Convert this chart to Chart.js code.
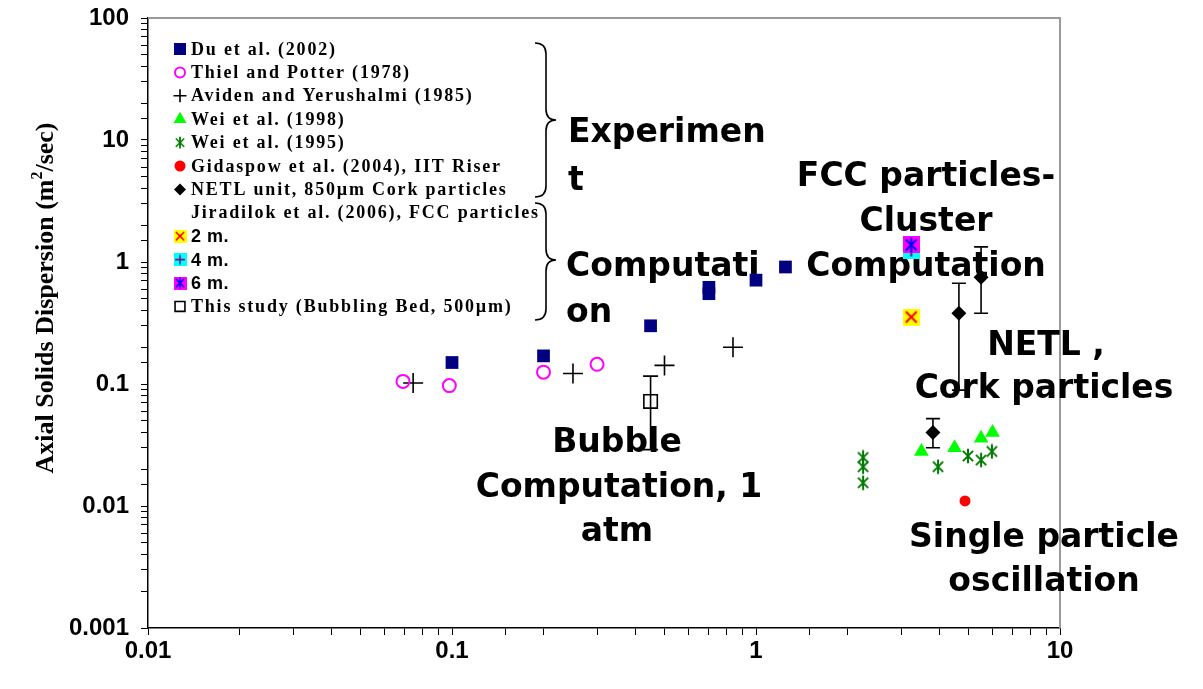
<!DOCTYPE html>
<html><head><meta charset="utf-8">
<script src="https://cdn.jsdelivr.net/npm/chart.js@4"></script>
<style>html,body{margin:0;padding:0;background:#fff}#wrap{width:1203px;height:689px;position:relative}</style>
</head><body><div id="wrap"><canvas id="c"></canvas></div>
<script>
// ---- tick labels ----
const xTickLabels = ['0.01', '0.1', '1', '10'];
const yTickLabels = ['0.001', '0.01', '0.1', '1', '10', '100'];

// ---- series ----
const duX = [0.1, 0.2, 0.45, 0.7, 0.7, 1.0, 1.25];
const duY = [0.15, 0.17, 0.30, 0.62, 0.55, 0.71, 0.91];
const thielX = [0.069, 0.098, 0.2, 0.3];
const thielY = [0.105, 0.097, 0.125, 0.145];
const avidenX = [0.0745, 0.25, 0.5, 0.84];
const avidenY = [0.102, 0.122, 0.142, 0.2];
const wei98X = [3.5, 4.5, 5.5, 6.0];
const wei98Y = [0.028, 0.030, 0.036, 0.040];
const wei95X = [2.25, 2.25, 2.25, 3.97, 4.98, 5.5, 5.97];
const wei95Y = [0.025, 0.021, 0.0155, 0.021, 0.0257, 0.0238, 0.028];
const gidaspowX = [4.87];
const gidaspowY = [0.011];
const netlX = [3.82, 4.65, 5.5];
const netlY = [0.040, 0.38, 0.75];
const netlLow = [0.030, 0.089, 0.38];
const netlHigh = [0.052, 0.67, 1.33];
const jir2X = [3.24];
const jir2Y = [0.354];
const jir4X = [3.24];
const jir4Y = [1.25];
const jir6X = [3.24];
const jir6Y = [1.38];
const thisX = [0.45];
const thisY = [0.072];
const thisLow = [0.029];
const thisHigh = [0.116];

const seriesLabels = [
  'Du et al. (2002)', 'Thiel and Potter (1978)', 'Aviden and Yerushalmi (1985)',
  'Wei et al. (1998)', 'Wei et al. (1995)', 'Gidaspow et al. (2004), IIT Riser',
  'NETL unit, 850µm Cork particles', 'Jiradilok et al. (2006), FCC particles',
  '2 m.', '4 m.', '6 m.', 'This study (Bubbling Bed, 500µm)'
];

// ---- annotation texts ----
const annotationLines = [
  ['Experimen', 568, 142, 'left'], ['t', 568, 190, 'left'],
  ['Computati', 566, 276, 'left'], ['on', 566, 322, 'left'],
  ['FCC particles-', 926, 186, 'center'], ['Cluster', 926, 231, 'center'], ['Computation', 926, 276, 'center'],
  ['NETL ,', 1046, 355, 'center'], ['Cork particles', 1044, 398, 'center'],
  ['Bubble', 617, 452, 'center'], ['Computation, 1', 619, 497, 'center'], ['atm', 617, 541, 'center'],
  ['Single particle', 1044, 547, 'center'], ['oscillation', 1044, 591, 'center']
];

function pts(xs, ys) { return xs.map((x, i) => ({x: x, y: ys[i]})); }

function markerCanvas(size, bg, fg, kind, lw) {
  const c = document.createElement('canvas');
  c.width = size; c.height = size;
  const g = c.getContext('2d');
  if (bg) { g.fillStyle = bg; g.fillRect(0, 0, size, size); }
  g.strokeStyle = fg; g.lineWidth = lw; g.lineCap = 'butt';
  const m = size / 2, a = size * 0.18, b = size - a;
  g.beginPath();
  if (kind === 'x' || kind === 'ast') { g.moveTo(a, a); g.lineTo(b, b); g.moveTo(b, a); g.lineTo(a, b); }
  if (kind === 'plus') { g.moveTo(m, a * 0.7); g.lineTo(m, size - a * 0.7); g.moveTo(a * 0.7, m); g.lineTo(size - a * 0.7, m); }
  if (kind === 'ast') { g.moveTo(m, a * 0.3); g.lineTo(m, size - a * 0.3); }
  g.stroke();
  return c;
}
const astGreen = markerCanvas(16, null, '#007a00', 'ast', 2);
const mk2 = markerCanvas(17, '#ffff00', '#ff0000', 'x', 2);
const mk4 = markerCanvas(17, '#00ffff', '#800080', 'plus', 2);
const mk6 = markerCanvas(17, '#ff00ff', '#0000ff', 'ast', 2);

const datasets = [
  {label: seriesLabels[0], data: pts(duX, duY), pointStyle: 'rect', pointRadius: 9, backgroundColor: '#000080', borderColor: '#000080', borderWidth: 0, legendRadius: 8.5},
  {label: seriesLabels[1], data: pts(thielX, thielY), pointStyle: 'circle', pointRadius: 6.5, backgroundColor: 'rgba(0,0,0,0)', borderColor: '#ff00ff', borderWidth: 2, legendRadius: 5},
  {label: seriesLabels[2], data: pts(avidenX, avidenY), pointStyle: 'cross', pointRadius: 10, backgroundColor: '#000', borderColor: '#000', borderWidth: 1.6, legendRadius: 6.5},
  {label: seriesLabels[3], data: pts(wei98X, wei98Y), pointStyle: 'triangle', pointRadius: 8.5, backgroundColor: '#00ff00', borderColor: '#00ff00', borderWidth: 0, legendRadius: 7.5},
  {label: seriesLabels[4], data: pts(wei95X, wei95Y), pointStyle: astGreen, pointRadius: 8, backgroundColor: '#007a00', borderColor: '#007a00', borderWidth: 1, legendRadius: 6},
  {label: seriesLabels[5], data: pts(gidaspowX, gidaspowY), pointStyle: 'circle', pointRadius: 5.5, backgroundColor: '#ff0000', borderColor: '#ff0000', borderWidth: 0, legendRadius: 5.5},
  {label: seriesLabels[6], data: pts(netlX, netlY), pointStyle: 'rectRot', pointRadius: 7.5, backgroundColor: '#000', borderColor: '#000', borderWidth: 0, legendRadius: 6},
  {label: seriesLabels[7], data: [], pointStyle: false, pointRadius: 0, backgroundColor: '#fff', borderColor: '#fff', borderWidth: 0, legendRadius: 0},
  {label: seriesLabels[8], data: pts(jir2X, jir2Y), pointStyle: mk2, pointRadius: 8, backgroundColor: '#ffff00', borderColor: '#ff0000', borderWidth: 1, legendRadius: 8},
  {label: seriesLabels[9], data: pts(jir4X, jir4Y), pointStyle: mk4, pointRadius: 8, backgroundColor: '#00ffff', borderColor: '#800080', borderWidth: 1, legendRadius: 8, order: 1},
  {label: seriesLabels[10], data: pts(jir6X, jir6Y), pointStyle: mk6, pointRadius: 8, backgroundColor: '#ff00ff', borderColor: '#0000ff', borderWidth: 1, legendRadius: 8, order: -1},
  {label: seriesLabels[11], data: pts(thisX, thisY), pointStyle: 'rect', pointRadius: 9.5, backgroundColor: 'rgba(0,0,0,0)', borderColor: '#000', borderWidth: 1.6, legendRadius: 7}
];
datasets.forEach(d => { d.showLine = false; d.pointHoverRadius = d.pointRadius; });

const errorBars = [
  {x: netlX, low: netlLow, high: netlHigh, cap: 7},
  {x: thisX, low: thisLow, high: thisHigh, cap: 7.5}
];

function labelFor(list, value) {
  for (const s of list) { if (Math.abs(Number(s) - value) <= Math.abs(value) * 1e-6) return s; }
  return '';
}

const drawPlugin = {
  id: 'extras',
  beforeDatasetsDraw(chart) {
    const ctx = chart.ctx, a = chart.chartArea;
    ctx.save();
    // grey frame on top and right
    ctx.strokeStyle = '#9a9a9a'; ctx.lineWidth = 2;
    ctx.beginPath(); ctx.moveTo(a.left, a.top); ctx.lineTo(a.right, a.top); ctx.lineTo(a.right, a.bottom); ctx.stroke();
    // annotations
    ctx.fillStyle = '#000';
    ctx.font = 'bold 33px "DejaVu Sans"';
    ctx.textBaseline = 'alphabetic';
    annotationLines.forEach(l => { ctx.textAlign = l[3]; ctx.fillText(l[0], l[1], l[2]); });
    // braces
    ctx.strokeStyle = '#000'; ctx.lineWidth = 1.6;
    function brace(x0, x1, x2, yt, ym, yb) {
      const r = 11;
      ctx.beginPath();
      ctx.moveTo(x0, yt);
      ctx.quadraticCurveTo(x1, yt, x1, yt + r);
      ctx.lineTo(x1, ym - r);
      ctx.quadraticCurveTo(x1, ym, x2, ym);
      ctx.quadraticCurveTo(x1, ym, x1, ym + r);
      ctx.lineTo(x1, yb - r);
      ctx.quadraticCurveTo(x1, yb, x0, yb);
      ctx.stroke();
    }
    brace(535, 546, 556, 43, 120, 197);
    brace(535, 546, 556, 203, 260, 320);
    // legend
    const lx = 180, tx = 191, y0 = 49, dy = 23.4;
    datasets.forEach((d, i) => {
      const y = y0 + i * dy;
      if (d.pointStyle) {
        ctx.fillStyle = d.backgroundColor; ctx.strokeStyle = d.borderColor; ctx.lineWidth = d.borderWidth;
        if (d.pointStyle instanceof HTMLCanvasElement) {
          const s = d.pointStyle, k = 13 / s.width;
          ctx.drawImage(s, lx - s.width * k / 2, y - s.height * k / 2, s.width * k, s.height * k);
        } else if (Chart.helpers && Chart.helpers.drawPoint) {
          Chart.helpers.drawPoint(ctx, {pointStyle: d.pointStyle, radius: d.legendRadius, rotation: 0, borderWidth: d.borderWidth}, lx, y);
        }
      }
      ctx.fillStyle = '#000'; ctx.textAlign = 'left'; ctx.textBaseline = 'middle';
      if (/^\d/.test(d.label)) { ctx.font = 'bold 18px "Liberation Sans"'; ctx.letterSpacing = '0.5px'; }
      else { ctx.font = 'bold 18px "Liberation Serif"'; ctx.letterSpacing = '1.8px'; }
      ctx.fillText(d.label, tx, y + 1);
    });
    ctx.letterSpacing = '0px';
    // y-axis title
    ctx.save();
    ctx.translate(43, 298); ctx.rotate(-Math.PI / 2);
    const p1 = 'Axial Solids Dispersion (m', sup = '2', p2 = '/sec)';
    ctx.font = 'bold 26px "Liberation Serif"';
    const w1 = ctx.measureText(p1).width, w3 = ctx.measureText(p2).width;
    ctx.font = 'bold 16px "Liberation Serif"';
    const w2 = ctx.measureText(sup).width;
    let sx = -(w1 + w2 + w3) / 2;
    ctx.textAlign = 'left'; ctx.textBaseline = 'alphabetic';
    ctx.font = 'bold 26px "Liberation Serif"'; ctx.fillText(p1, sx, 10); sx += w1;
    ctx.font = 'bold 16px "Liberation Serif"'; ctx.fillText(sup, sx, -1); sx += w2;
    ctx.font = 'bold 26px "Liberation Serif"'; ctx.fillText(p2, sx, 10);
    ctx.restore();
    ctx.restore();
  },
  afterDatasetsDraw(chart) {
    const ctx = chart.ctx, xs = chart.scales.x, ys = chart.scales.y;
    ctx.save();
    ctx.strokeStyle = '#000'; ctx.lineWidth = 1.6;
    errorBars.forEach(e => {
      e.x.forEach((xv, i) => {
        const px = xs.getPixelForValue(xv), pl = ys.getPixelForValue(e.low[i]), ph = ys.getPixelForValue(e.high[i]);
        ctx.beginPath();
        ctx.moveTo(px, pl); ctx.lineTo(px, ph);
        ctx.moveTo(px - e.cap, ph); ctx.lineTo(px + e.cap, ph);
        ctx.moveTo(px - e.cap, pl); ctx.lineTo(px + e.cap, pl);
        ctx.stroke();
      });
    });
    ctx.restore();
  }
};

new Chart(document.getElementById('c'), {
  type: 'scatter',
  data: {datasets: datasets},
  options: {
    responsive: true, maintainAspectRatio: false, animation: false,
    layout: {padding: {left: 0, top: 18, right: 143, bottom: 0}},
    plugins: {legend: {display: false}, tooltip: {enabled: false}},
    scales: {
      x: {
        type: 'logarithmic', min: 0.01, max: 10,
        afterFit: s => { s.height = 61; s.paddingLeft = 0; s.paddingRight = 0; },
        grid: {drawOnChartArea: false, drawTicks: true, tickLength: 7, color: '#000', lineWidth: 1},
        border: {display: true, color: '#000', width: 1.5},
        ticks: {autoSkip: false, maxRotation: 0, padding: 2, color: '#000', font: {family: 'Liberation Sans', size: 24, weight: 'bold'},
          callback: v => labelFor(xTickLabels, v)}
      },
      y: {
        type: 'logarithmic', min: 0.001, max: 100,
        afterFit: s => { s.width = 148; s.paddingTop = 0; s.paddingBottom = 0; },
        grid: {drawOnChartArea: false, drawTicks: true, tickLength: 7, color: '#000', lineWidth: 1},
        border: {display: true, color: '#000', width: 1.5},
        ticks: {autoSkip: false, padding: 12, color: '#000', font: {family: 'Liberation Sans', size: 24, weight: 'bold'},
          callback: v => labelFor(yTickLabels, v)}
      }
    }
  },
  plugins: [drawPlugin]
});
</script></body></html>
